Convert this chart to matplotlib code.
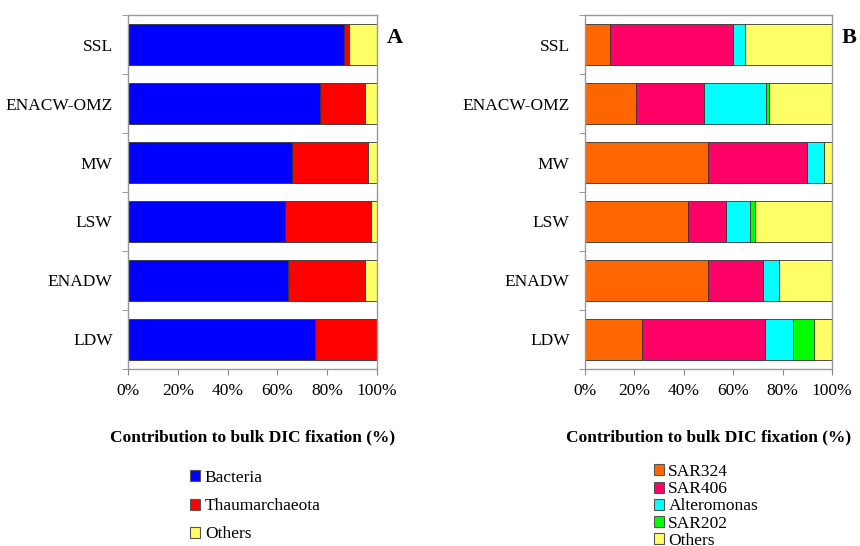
import numpy as np
import matplotlib
matplotlib.use("Agg")
import matplotlib.pyplot as plt
from matplotlib.patches import Patch
from matplotlib.ticker import MultipleLocator, PercentFormatter

plt.rcParams["font.family"] = ["Liberation Serif", "DejaVu Serif"]

# water masses, top to bottom
masses = ["SSL", "ENACW-OMZ", "MW", "LSW", "ENADW", "LDW"]

# panel A: contribution (%)
bacteria = [86.7, 77.3, 65.7, 63.0, 64.4, 75.2]
thaum = [2.1, 17.7, 30.7, 34.6, 30.8, 24.8]
others_a = [11.2, 5.0, 3.6, 2.4, 4.8, 0.0]

# panel B: contribution (%)
sar324 = [10.3, 20.8, 50.0, 41.6, 50.0, 23.0]
sar406 = [49.8, 27.2, 39.9, 15.4, 22.0, 50.0]
altero = [4.8, 25.4, 6.9, 9.9, 6.6, 11.4]
sar202 = [0.0, 1.1, 0.0, 2.0, 0.0, 8.4]
others_b = [35.1, 25.5, 3.2, 31.1, 21.4, 7.2]

series_a = [("Bacteria", bacteria, "#0000ff"),
            ("Thaumarchaeota", thaum, "#ff0000"),
            ("Others", others_a, "#ffff66")]
series_b = [("SAR324", sar324, "#ff6600"),
            ("SAR406", sar406, "#ff0066"),
            ("Alteromonas", altero, "#00ffff"),
            ("SAR202", sar202, "#00ff00"),
            ("Others", others_b, "#ffff66")]

fig = plt.figure(figsize=(8.6, 5.46), dpi=100)
ax_a = fig.add_axes([0.1488, 0.3242, 0.2896, 0.6483])
ax_b = fig.add_axes([0.6802, 0.3242, 0.2872, 0.6483])


def stacked(ax, series, tag):
    y = np.arange(len(masses))
    left = np.zeros(len(masses))
    for name, vals, col in series:
        vals = np.array(vals)
        ax.barh(y, vals, left=left, height=0.68, color=col,
                edgecolor="#333333", linewidth=0.6, label=name)
        left += vals
    ax.set_xlim(0, 100)
    ax.set_ylim(len(masses) - 0.5, -0.5)
    ax.set_yticks(y)
    ax.set_yticklabels(masses, fontsize=12.5)
    ax.tick_params(axis="y", which="major", length=0, pad=11)
    ax.yaxis.set_minor_locator(MultipleLocator(1, offset=0.5))
    ax.tick_params(axis="y", which="minor", length=4, color="#888888")
    ax.xaxis.set_major_locator(MultipleLocator(20))
    ax.xaxis.set_major_formatter(PercentFormatter(decimals=0))
    ax.tick_params(axis="x", labelsize=12.5, length=4, color="#888888", pad=6)
    for s in ax.spines.values():
        s.set_color("#999999")
        s.set_linewidth(1.0)
    ax.set_xlabel("Contribution to bulk DIC fixation (%)", fontsize=12.5,
                  fontweight="bold", labelpad=22)
    ax.text(1.04, 0.935, tag, transform=ax.transAxes, fontsize=16,
            fontweight="bold", va="center", ha="left")


stacked(ax_a, series_a, "A")
stacked(ax_b, series_b, "B")

h_a = [Patch(facecolor=c, edgecolor="#555555", linewidth=0.8) for _, _, c in series_a]
fig.legend(h_a, [n for n, _, _ in series_a], loc="upper left",
           bbox_to_anchor=(0.221, 1 - 470 / 546), frameon=False, fontsize=12.5,
           handlelength=0.6, handleheight=0.6, handletextpad=0.25,
           labelspacing=0.7, borderpad=0, borderaxespad=0)

h_b = [Patch(facecolor=c, edgecolor="#555555", linewidth=0.8) for _, _, c in series_b]
fig.legend(h_b, [n for n, _, _ in series_b], loc="upper left",
           bbox_to_anchor=(0.760, 1 - 464 / 546), frameon=False, fontsize=12.5,
           handlelength=0.6, handleheight=0.6, handletextpad=0.25,
           labelspacing=0.07, borderpad=0, borderaxespad=0)

fig.savefig("out.png", dpi=100)
